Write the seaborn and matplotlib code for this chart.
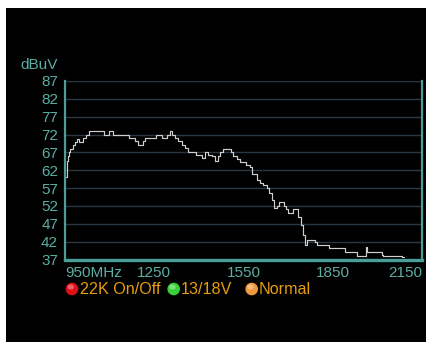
import matplotlib
matplotlib.use("Agg")
import matplotlib.pyplot as plt
from matplotlib.patches import Rectangle, Ellipse
import seaborn as sns
import pandas as pd

# Spectrum trace: start frequency of each step (MHz) and its level (dBuV)
freq_mhz = [955, 957, 960, 964, 968, 976, 983, 989, 998, 1011, 1022, 1031,
            1081, 1098, 1111, 1165, 1185, 1196, 1211, 1220, 1255, 1275, 1292,
            1303, 1311, 1320, 1331, 1342, 1353, 1364, 1392, 1409, 1420, 1429,
            1443, 1454, 1463, 1471, 1482, 1507, 1516, 1527, 1537, 1560, 1572,
            1580, 1594, 1605, 1617, 1628, 1637, 1645, 1652, 1661, 1670, 1686,
            1693, 1701, 1715, 1734, 1742, 1749, 1757, 1765, 1774, 1790, 1798,
            1838, 1891, 1933, 1962, 1966, 1973, 2014, 2020, 2082, 2088]
level_dbuv = [60.0, 64.5, 66.0, 67.2, 68.0, 69.2, 70.0, 70.8, 70.0, 71.0, 72.0, 73.0,
              72.0, 73.0, 72.0, 71.0, 70.1, 69.2, 70.1, 71.0, 72.0, 71.0, 72.0,
              73.0, 72.0, 71.0, 70.1, 69.2, 68.3, 67.1, 66.4, 65.4, 67.0, 66.4,
              65.9, 64.5, 66.0, 67.0, 68.0, 67.0, 66.1, 65.2, 64.2, 63.6, 62.9,
              61.0, 59.3, 58.4, 58.0, 57.0, 55.6, 53.7, 51.4, 52.0, 53.0, 52.0,
              51.1, 50.1, 51.1, 49.0, 46.7, 43.9, 41.0, 42.6, 42.5, 42.0, 41.0,
              40.1, 39.0, 38.0, 40.5, 39.2, 39.0, 38.2, 38.0, 37.6, 37.6]

y_ticks = [37, 42, 47, 52, 57, 62, 67, 72, 77, 82, 87]
x_ticks = [950, 1250, 1550, 1850, 2150]
x_tick_labels = ["950MHz", "1250", "1550", "1850", "2150"]
y_unit = "dBuV"

legend_labels = ["22K On/Off", "13/18V", "Normal"]
legend_colors = ["#e01018", "#38d038", "#f09a40"]

TEAL = "#5aaea4"
SPINE = "#4a9e96"
GRID = "#2a3742"
TRACE = "#cfcfcf"
LABEL_ORANGE = "#e89c10"

sns.set_theme(style="dark")
plt.rcParams["font.family"] = ["Liberation Sans", "DejaVu Sans"]

W, H = 426, 342
fig = plt.figure(figsize=(W / 100, H / 100), dpi=100)
fig.patch.set_facecolor("white")
fig.add_artist(Rectangle((6 / W, 0), 1 - 6 / W, (H - 8) / H,
                         transform=fig.transFigure, facecolor="black",
                         edgecolor="none", zorder=0))

left, right, top, bottom = 65, 422, 81, 259.5
ax = fig.add_axes([left / W, (H - bottom) / H, (right - left) / W, (bottom - top) / H])
ax.set_facecolor("black")

df = pd.DataFrame({"freq": freq_mhz, "level": level_dbuv})
sns.lineplot(data=df, x="freq", y="level", drawstyle="steps-post",
             color=TRACE, linewidth=0.85, ax=ax, zorder=3)

ax.set_xlim(950, 2150)
ax.set_ylim(37, 87)
ax.set_xlabel("")
ax.set_ylabel("")

ax.set_yticks(y_ticks)
ax.set_yticklabels([str(v) for v in y_ticks])
ax.set_xticks(x_ticks)
ax.set_xticklabels(x_tick_labels)
for i, lab in enumerate(ax.get_xticklabels()):
    if i == 0:
        lab.set_ha("left")
    elif i == len(x_ticks) - 1:
        lab.set_ha("right")

ax.grid(False)
ax.yaxis.grid(True, color=GRID, linewidth=1.0)
ax.tick_params(axis="y", length=0, pad=5, labelsize=11, labelcolor=TEAL)
ax.tick_params(axis="x", direction="in", length=3, width=1, color=SPINE,
               pad=5, labelsize=11, labelcolor=TEAL)

for side in ["left", "right", "bottom"]:
    ax.spines[side].set_visible(True)
    ax.spines[side].set_color(SPINE)
ax.spines["left"].set_linewidth(1.6)
ax.spines["right"].set_linewidth(1.6)
ax.spines["bottom"].set_linewidth(2.4)
ax.spines["top"].set_visible(False)

fig.text(39.5 / W, 1 - 65 / H, y_unit, color=TEAL, fontsize=11,
         ha="center", va="center")

# Status indicators below the axis
centers = [72, 173.7, 251.7]
text_x = [80.5, 180.5, 259]
cy = 289
r = 6.3
for cx, tx, col, lab in zip(centers, text_x, legend_colors, legend_labels):
    fig.add_artist(Ellipse((cx / W, 1 - cy / H), 2 * r / W, 2 * r / H,
                           transform=fig.transFigure, facecolor=col,
                           edgecolor="none", zorder=5))
    fig.add_artist(Ellipse(((cx - 1.2) / W, 1 - (cy - 2) / H), 1.0 * r / W, 0.8 * r / H,
                           transform=fig.transFigure, facecolor="white",
                           alpha=0.35, edgecolor="none", zorder=6))
    fig.text(tx / W, 1 - cy / H, lab, color=LABEL_ORANGE, fontsize=11.6,
             ha="left", va="center")

fig.savefig("out.png", dpi=100, facecolor=fig.get_facecolor())
